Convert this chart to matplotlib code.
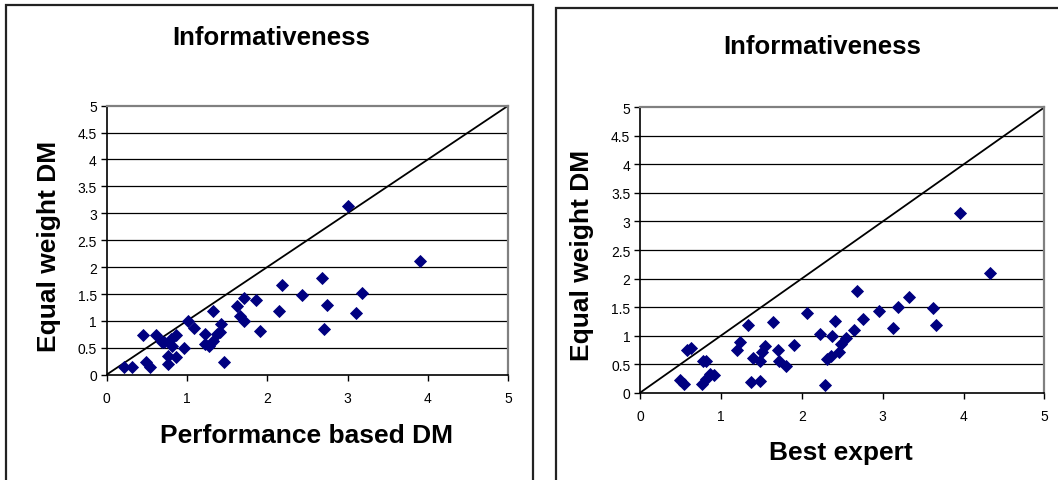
import numpy as np
import matplotlib
matplotlib.use("Agg")
import matplotlib.pyplot as plt
from matplotlib.patches import Rectangle

plt.rcParams['font.family'] = ['Liberation Sans', 'DejaVu Sans']

# left panel: performance based DM vs equal weight DM
perf_x = [0.22, 0.32, 0.49, 0.54, 0.45, 0.62, 0.69, 0.77, 0.77, 0.81, 0.86, 0.86,
          0.97, 1.02, 1.09, 1.22, 1.23, 1.33, 1.33, 1.37, 1.43, 1.46, 1.62, 1.66,
          1.71, 1.71, 1.86, 1.91, 2.15, 2.18, 2.43, 2.68, 2.71, 2.75, 3.00, 3.10,
          3.18, 3.90, 1.28, 1.41, 0.80, 0.72]
perf_y = [0.15, 0.15, 0.23, 0.15, 0.74, 0.74, 0.60, 0.19, 0.35, 0.54, 0.74, 0.32,
          0.49, 0.99, 0.86, 0.76, 0.57, 1.19, 0.63, 0.76, 0.94, 0.23, 1.27, 1.10,
          1.42, 1.00, 1.38, 0.82, 1.19, 1.67, 1.49, 1.79, 0.85, 1.30, 3.14, 1.15,
          1.52, 2.11, 0.54, 0.79, 0.66, 0.60]

# right panel: best expert vs equal weight DM
best_x = [0.49, 0.54, 0.58, 0.63, 0.76, 0.78, 0.81, 0.82, 0.87, 0.92, 1.20, 1.23,
          1.33, 1.37, 1.39, 1.48, 1.48, 1.51, 1.55, 1.64, 1.70, 1.72, 1.80, 1.90,
          2.07, 2.23, 2.29, 2.31, 2.36, 2.37, 2.41, 2.46, 2.49, 2.55, 2.64, 2.68,
          2.76, 2.96, 3.13, 3.19, 3.33, 3.62, 3.66, 3.96, 4.33]
best_y = [0.22, 0.15, 0.75, 0.78, 0.16, 0.56, 0.56, 0.24, 0.33, 0.31, 0.74, 0.89,
          1.19, 0.18, 0.61, 0.21, 0.56, 0.71, 0.81, 1.23, 0.74, 0.56, 0.46, 0.84,
          1.40, 1.03, 0.14, 0.59, 0.64, 0.99, 1.26, 0.71, 0.86, 0.95, 1.09, 1.79,
          1.30, 1.44, 1.14, 1.51, 1.68, 1.48, 1.19, 3.14, 2.10]

panels = [
    (perf_x, perf_y, "Performance based DM", [0.1007, 0.2189, 0.3796, 0.5593],
     (271, 38), (306, 436), (49, 246)),
    (best_x, best_y, "Best expert", [0.6050, 0.1815, 0.3822, 0.5933],
     (822, 47), (841, 453), (582, 255)),
]

W, H = 1058, 481
fig = plt.figure(figsize=(W / 100, H / 100), dpi=100)

# chart boxes
fig.add_artist(Rectangle((6 / W, -0.05), (533 - 6) / W, 1.05 - 6 / H, transform=fig.transFigure,
                         fill=False, ec='#222222', lw=1.6))
fig.add_artist(Rectangle((556 / W, -0.05), 0.6, 1.05 - 9 / H, transform=fig.transFigure,
                         fill=False, ec='#222222', lw=1.6))

for xs, ys, xlabel, rect, tpos, xpos, ypos in panels:
    ax = fig.add_axes(rect)
    ax.set_xlim(0, 5)
    ax.set_ylim(0, 5)
    ax.set_xticks(np.arange(0, 6, 1))
    ax.set_yticks(np.arange(0, 5.5, 0.5))
    ax.set_xticklabels([str(i) for i in range(6)])
    ax.set_yticklabels(['0', '0.5', '1', '1.5', '2', '2.5', '3', '3.5', '4', '4.5', '5'])
    for v in np.arange(0.5, 5.0, 0.5):
        ax.axhline(v, color='black', lw=0.9, zorder=1)
    ax.plot([0, 5], [0, 5], color='black', lw=1.3, zorder=2)
    ax.plot(xs, ys, linestyle='none', marker='D', ms=6.5, mfc='#000080', mec='#000080',
            mew=0.6, zorder=3, clip_on=False)
    for s in ['left', 'bottom']:
        ax.spines[s].set_color('black')
        ax.spines[s].set_linewidth(1.2)
    for s in ['right', 'top']:
        ax.spines[s].set_color('#808080')
        ax.spines[s].set_linewidth(1.6)
    ax.tick_params(direction='out', length=4, width=1, labelsize=10, pad=3)
    ax.tick_params(axis='x', pad=8)

    fig.text(tpos[0] / W, 1 - tpos[1] / H, "Informativeness", ha='center', va='center',
             fontsize=18.5, fontweight='bold')
    fig.text(xpos[0] / W, 1 - xpos[1] / H, xlabel, ha='center', va='center',
             fontsize=19, fontweight='bold')
    fig.text(ypos[0] / W, 1 - ypos[1] / H, "Equal weight DM", ha='center', va='center',
             fontsize=19, fontweight='bold', rotation=90)

plt.savefig("out.png", dpi=100)
